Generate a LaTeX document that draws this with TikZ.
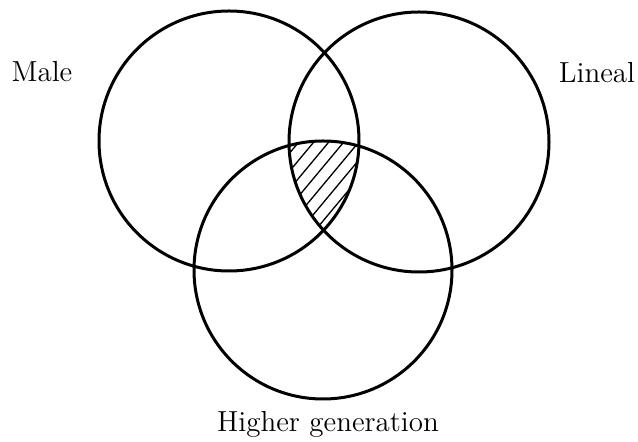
\documentclass[tikz,border=0pt]{standalone}
\tikzset{
  venn sheet/.style={
    x=0.5pt,
    y=-0.5pt,
    line cap=round,
    line join=round
  },
  venn set/.style={
    circle,
    draw,
    line width=1.5pt,
    minimum size=130pt,
    inner sep=0pt
  },
  venn label/.style={
    font=\fontsize{14.5}{17}\selectfont,
    anchor=base,
    inner sep=1pt
  },
  venn hatch/.style={
    line width=0.65pt
  }
}
\begin{document}
\begin{tikzpicture}[venn sheet]
  \useasboundingbox (0,0) rectangle (638,442);
  \node[venn set] (male) at (229,141) {};
  \node[venn set] (lineal) at (419,142) {};
  \node[venn set, minimum size=129pt] (higher) at (323,270) {};
  % hatched part common to all three sets
  \begin{scope}
    \clip (male.center) circle[radius=130];
    \clip (lineal.center) circle[radius=130];
    \clip (higher.center) circle[radius=129];
    \foreach \k in {-10,...,10}
      \draw[venn hatch] (\k*15+223,305) -- ++(200,-240);
  \end{scope}
  \node[venn label] (male label) at (42,82) {Male};
  \node[venn label] (lineal label) at (597,83) {Lineal};
  \node[venn label] (higher label) at (328,432) {Higher generation};
\end{tikzpicture}
\end{document}
